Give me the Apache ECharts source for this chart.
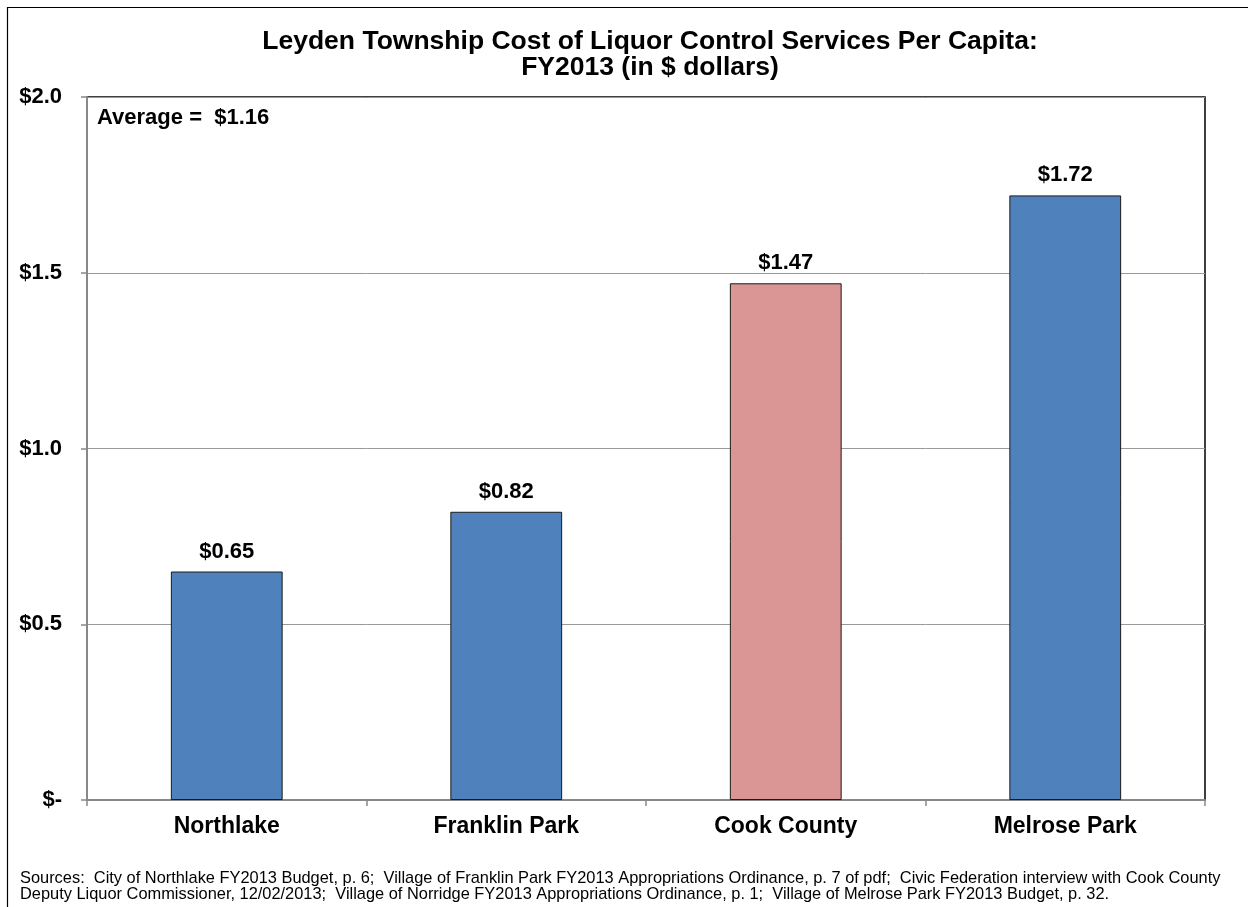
<!DOCTYPE html>
<html>
<head>
<meta charset="utf-8">
<title>Leyden Township Cost of Liquor Control Services Per Capita</title>
<script src="https://cdn.jsdelivr.net/npm/echarts@6/dist/echarts.min.js"></script>
<style>
  html, body { margin: 0; padding: 0; background: #fff; }
  #chart { width: 1248px; height: 907px; }
</style>
</head>
<body>
<div id="chart"></div>
<script>
// Per-capita liquor control cost, FY2013
const categories = ['Northlake', 'Franklin Park', 'Cook County', 'Melrose Park'];
const costValues = [0.65, 0.82, 1.47, 1.72];
const barColors = ['#4F81BD', '#4F81BD', '#D99694', '#4F81BD'];
const yTickValues = [0, 0.5, 1.0, 1.5, 2.0];
const yTickLabels = ['$-', '$0.5', '$1.0', '$1.5', '$2.0'];
const averageText = 'Average =  $1.16';
const titleLines = [
  'Leyden Township Cost of Liquor Control Services Per Capita:',
  'FY2013 (in $ dollars)'
];
const sourceLines = [
  'Sources:  City of Northlake FY2013 Budget, p. 6;  Village of Franklin Park FY2013 Appropriations Ordinance, p. 7 of pdf;  Civic Federation interview with Cook County',
  'Deputy Liquor Commissioner, 12/02/2013;  Village of Norridge FY2013 Appropriations Ordinance, p. 1;  Village of Melrose Park FY2013 Budget, p. 32.'
];

const FONT = 'Arial, "Liberation Sans", sans-serif';

const chart = echarts.init(document.getElementById('chart'), null, { renderer: 'canvas' });

chart.setOption({
  backgroundColor: '#fff',
  animation: false,
  title: {
    text: titleLines.join('\n'),
    left: 645,
    textAlign: 'center',
    top: 24,
    textStyle: {
      fontFamily: FONT,
      fontSize: 26.5,
      fontWeight: 'bold',
      color: '#000',
      lineHeight: 26
    }
  },
  grid: {
    left: 87,
    right: 43,
    top: 97,
    bottom: 107,
    show: true,
    borderColor: '#000',
    borderWidth: 1.5,
    containLabel: false
  },
  xAxis: {
    type: 'category',
    data: categories,
    axisLine: { lineStyle: { color: '#888', width: 2 } },
    axisTick: { show: true, length: 6, lineStyle: { color: '#888', width: 1.5 } },
    axisLabel: {
      margin: 15,
      fontFamily: FONT,
      fontSize: 23,
      lineHeight: 23,
      fontWeight: 'bold',
      color: '#000'
    }
  },
  yAxis: {
    type: 'value',
    min: 0,
    max: 2,
    interval: 0.5,
    axisLine: { show: true, lineStyle: { color: '#888', width: 2 } },
    axisTick: { show: true, length: 6, lineStyle: { color: '#888', width: 1.5 } },
    splitLine: { show: true, lineStyle: { color: '#999', width: 1 } },
    axisLabel: {
      margin: 25,
      fontFamily: FONT,
      fontSize: 22,
      fontWeight: 'bold',
      color: '#000',
      formatter: function (v) {
        const i = yTickValues.findIndex(t => Math.abs(t - v) < 1e-9);
        return i >= 0 ? yTickLabels[i] : '';
      }
    }
  },
  series: [{
    type: 'bar',
    barWidth: '40%',
    data: costValues.map((v, i) => ({
      value: v,
      itemStyle: { color: barColors[i] }
    })),
    itemStyle: { borderColor: '#1a1a1a', borderWidth: 1 },
    label: {
      show: true,
      position: 'top',
      distance: 9,
      fontFamily: FONT,
      fontSize: 22,
      lineHeight: 22,
      fontWeight: 'bold',
      color: '#000',
      formatter: p => '$' + p.value.toFixed(2)
    }
  }],
  graphic: [
    {
      type: 'rect',
      silent: true,
      shape: { x: 7.5, y: 7.5, width: 1300, height: 1000 },
      style: { fill: null, stroke: '#000', lineWidth: 1.2 },
      z: -1
    },
    {
      type: 'text',
      left: 97,
      top: 107,
      style: {
        text: averageText,
        font: 'bold 22px ' + FONT,
        lineHeight: 22,
        fill: '#000'
      }
    },
    {
      type: 'text',
      left: 20,
      top: 870,
      style: {
        text: sourceLines.join('\n'),
        font: '16.4px ' + FONT,
        lineHeight: 16,
        fill: '#000'
      }
    }
  ]
});
</script>
</body>
</html>
